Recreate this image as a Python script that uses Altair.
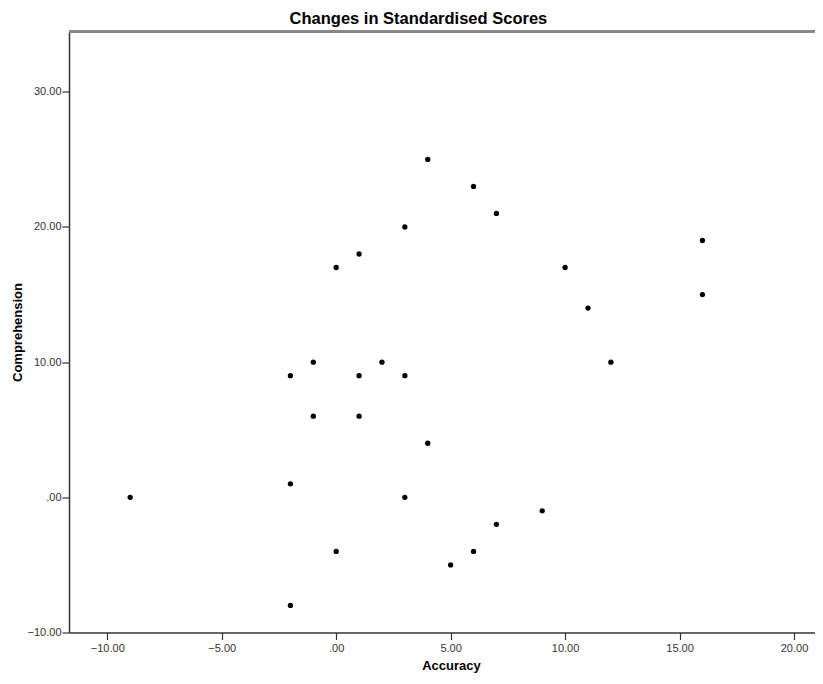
import altair as alt
import pandas as pd

accuracy = [-9, -2, -2, -2, -1, -1, 0, 0, 1, 1, 1, 2, 3, 3, 3, 4, 4, 5, 6, 6, 7, 7, 9, 10, 11, 12, 16, 16]
comprehension = [0, 1, 9, -8, 10, 6, 17, -4, 18, 9, 6, 10, 20, 9, 0, 25, 4, -5, 23, -4, 21, -2, -1, 17, 14, 10, 19, 15]

df = pd.DataFrame({"Accuracy": accuracy, "Comprehension": comprehension})

W = 746
H = 601
FONT = "Liberation Sans"
XMIN = -11.673
XMAX = XMIN + W / 22.89

lbl = "datum.value == 0 ? '.00' : format(datum.value, '.2f')"

points = alt.Chart(df).mark_circle(size=28, color="black", opacity=1).encode(
    x=alt.X("Accuracy:Q",
            scale=alt.Scale(domain=[XMIN, XMAX], nice=False, zero=False),
            axis=alt.Axis(values=[-10, -5, 0, 5, 10, 15, 20], labelExpr=lbl,
                          title="Accuracy", grid=False, tickSize=7,
                          labelPadding=3, titlePadding=6, titleX=382)),
    y=alt.Y("Comprehension:Q",
            scale=alt.Scale(domain=[-10, 34.46], nice=False, zero=False),
            axis=alt.Axis(values=[-10, 0, 10, 20, 30], labelExpr=lbl,
                          title="Comprehension", grid=False, tickSize=7,
                          labelPadding=1, titlePadding=3)),
)

top_border = alt.Chart(df).mark_rule(color="#888888", strokeWidth=1.5).encode(
    x=alt.value(0), x2=alt.value(W), y=alt.value(0)
)

chart = alt.layer(top_border, points).properties(
    width=W,
    height=H,
    title=alt.TitleParams("Changes in Standardised Scores", font=FONT, fontSize=16.5,
                          fontWeight="bold", color="black", offset=3, anchor="middle",
                          frame="bounds", dx=5),
    autosize=alt.AutoSizeParams(type="none"),
    padding={"left": 61, "top": 23.5, "right": 0, "bottom": 43.5},
).configure_view(stroke=None).configure_axis(
    labelFont=FONT, labelFontSize=11, labelColor="#333333",
    titleFont=FONT, titleFontSize=13, titleFontWeight="bold", titleColor="black",
    domainColor="#333333", domainWidth=1.5, tickColor="#333333", tickWidth=1.2,
)

chart.save("out.html", embed_options={"renderer": "svg", "actions": False})
